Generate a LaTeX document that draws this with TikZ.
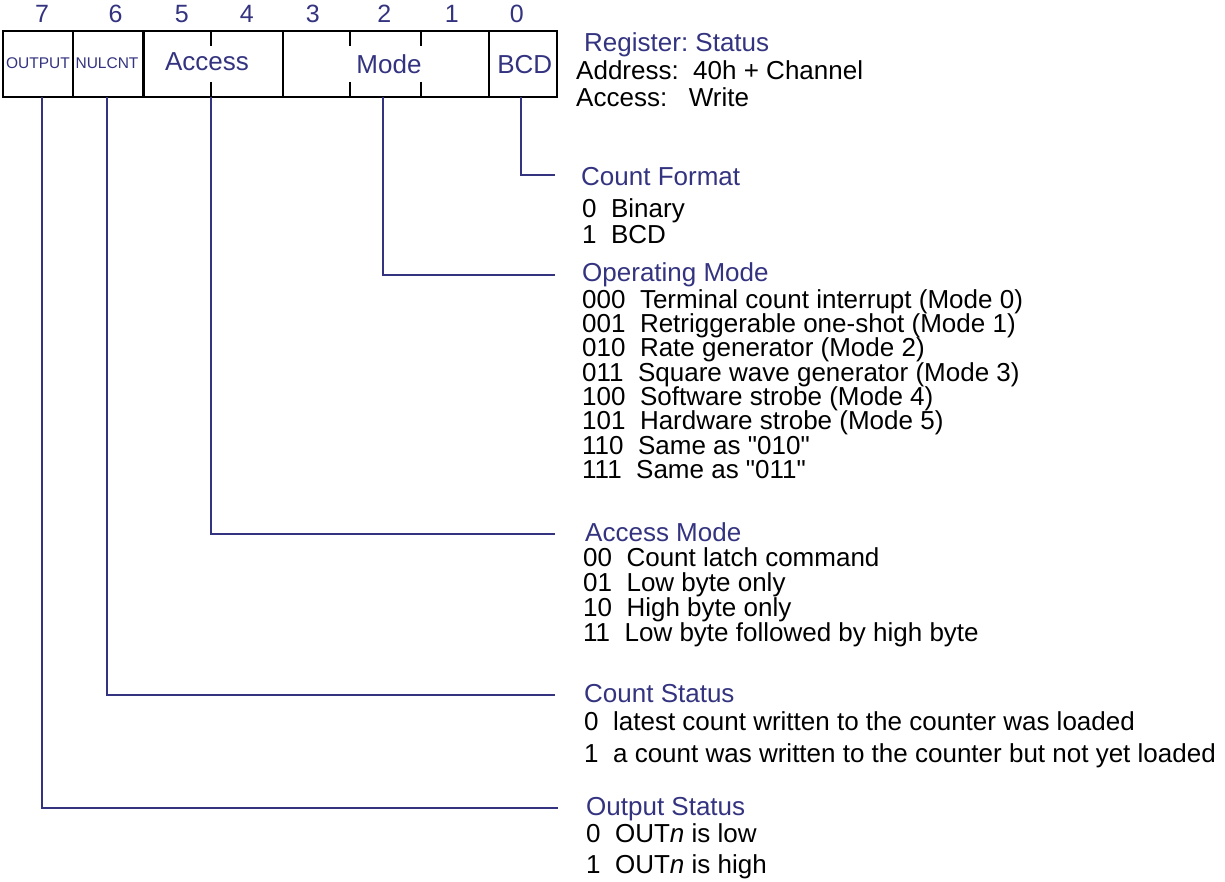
\documentclass[tikz,border=0pt]{standalone}
\usepackage{fontspec}
\setmainfont{Liberation Sans}
\definecolor{regblue}{RGB}{51,51,128}
\frenchspacing

\begin{document}
\begin{tikzpicture}[x=1pt,y=-1pt,
  frame/.style={line width=2.4pt, draw=black},
  lead/.style={line width=2.2pt, draw=regblue},
  bitnum/.style={text=regblue, font=\fontsize{25}{25}\selectfont, anchor=base, inner sep=0pt},
  field/.style={text=regblue, font=\fontsize{26}{26}\selectfont, anchor=base, inner sep=0pt},
  smallfield/.style={text=regblue, font=\fontsize{15.5}{15.5}\selectfont, anchor=base, inner sep=0pt},
  head/.style={text=regblue, font=\fontsize{26}{26}\selectfont, anchor=base west, inner sep=0pt},
  entry/.style={text=black, font=\fontsize{26}{26}\selectfont, anchor=base west, inner sep=0pt},
]
\useasboundingbox (0,0) rectangle (1225,882);

% ---- register frame ----
\draw[frame] (3,31) rectangle (557,97);
\foreach \x in {72.7,143.3,282.7,489}
  \draw[frame] (\x,31) -- (\x,97);
% half-height ticks inside the multi-bit fields
\foreach \x in {210.7,350,420.7} {
  \draw[frame] (\x,31) -- (\x,46.5);
  \draw[frame] (\x,82) -- (\x,97);
}

% ---- bit numbers ----
\node[bitnum] (b7) at (42,23) {7};
\node[bitnum] (b6) at (115.7,23) {6};
\node[bitnum] (b5) at (181.7,23) {5};
\node[bitnum] (b4) at (246.7,23) {4};
\node[bitnum] (b3) at (312.7,23) {3};
\node[bitnum] (b2) at (384.3,23) {2};
\node[bitnum] (b1) at (451.7,23) {1};
\node[bitnum] (b0) at (516.7,23) {0};

% ---- field names ----
\node[smallfield] (fout) at (38,68.3) {OUTPUT};
\node[smallfield] (fnul) at (107,68.3) {NULCNT};
\node[field] (facc) at (207,70.7) {Access};
\node[field] (fmode) at (389,73.3) {Mode};
\node[field] (fbcd) at (524.7,74) {BCD};

% ---- register description ----
\node[head] (reg) at (584,51.7) {Register: Status};
\node[entry] (addr) at (576,80) {Address:~~40h + Channel};
\node[entry] (acc) at (576,107) {Access:~~~Write};

% ---- Count Format ----
\node[head] (hcf) at (581,186) {Count Format};
\node[entry] (cf0) at (582,217.3) {0~~Binary};
\node[entry] (cf1) at (582,244) {1~~BCD};

% ---- Operating Mode ----
\node[head] (hom) at (582,282) {Operating Mode};
\foreach \n/\y/\t in {0/308.3/000~~Terminal count interrupt (Mode 0),
                      1/332.5/001~~Retriggerable one-shot (Mode 1),
                      2/356.7/010~~Rate generator (Mode 2),
                      3/381.2/011~~Square wave generator (Mode 3),
                      4/405.6/100~~Software strobe (Mode 4),
                      5/429.8/101~~Hardware strobe (Mode 5),
                      6/454/110~~Same as \textquotedbl010\textquotedbl,
                      7/478.2/111~~Same as \textquotedbl011\textquotedbl}
  \node[entry] (om\n) at (582,\y) {\t};

% ---- Access Mode ----
\node[head] (ham) at (585,541.7) {Access Mode};
\node[entry] (am0) at (583,566.7) {00~~Count latch command};
\node[entry] (am1) at (583,591.7) {01~~Low byte only};
\node[entry] (am2) at (583,616.7) {10~~High byte only};
\node[entry] (am3) at (583,641.7) {11~~Low byte followed by high byte};

% ---- Count Status ----
\node[head] (hcs) at (584,702) {Count Status};
\node[entry] (cs0) at (584,730.5) {0~~latest count written to the counter was loaded};
\node[entry] (cs1) at (584,762) {1~~a count was written to the counter but not yet loaded};

% ---- Output Status ----
\node[head] (hos) at (586,815) {Output Status};
\node[entry] (os0) at (586,842) {0~~OUT\textit{n} is low};
\node[entry] (os1) at (586,873) {1~~OUT\textit{n} is high};

% ---- leader lines from the fields to their descriptions ----
\coordinate (tbcd) at (520.7,97);
\coordinate (tmode) at (382.7,97);
\coordinate (tacc) at (210.7,97);
\coordinate (tnul) at (107.3,97);
\coordinate (tout) at (41.7,97);
\coordinate (ecf) at (555,175);
\coordinate (eom) at (555,275);
\coordinate (eam) at (555,534);
\coordinate (ecs) at (555,695);
\coordinate (eos) at (558,808);

\draw[lead] (tbcd) |- (ecf);
\draw[lead] (tmode) |- (eom);
\draw[lead] (tacc) |- (eam);
\draw[lead] (tnul) |- (ecs);
\draw[lead] (tout) |- (eos);
\end{tikzpicture}
\end{document}
